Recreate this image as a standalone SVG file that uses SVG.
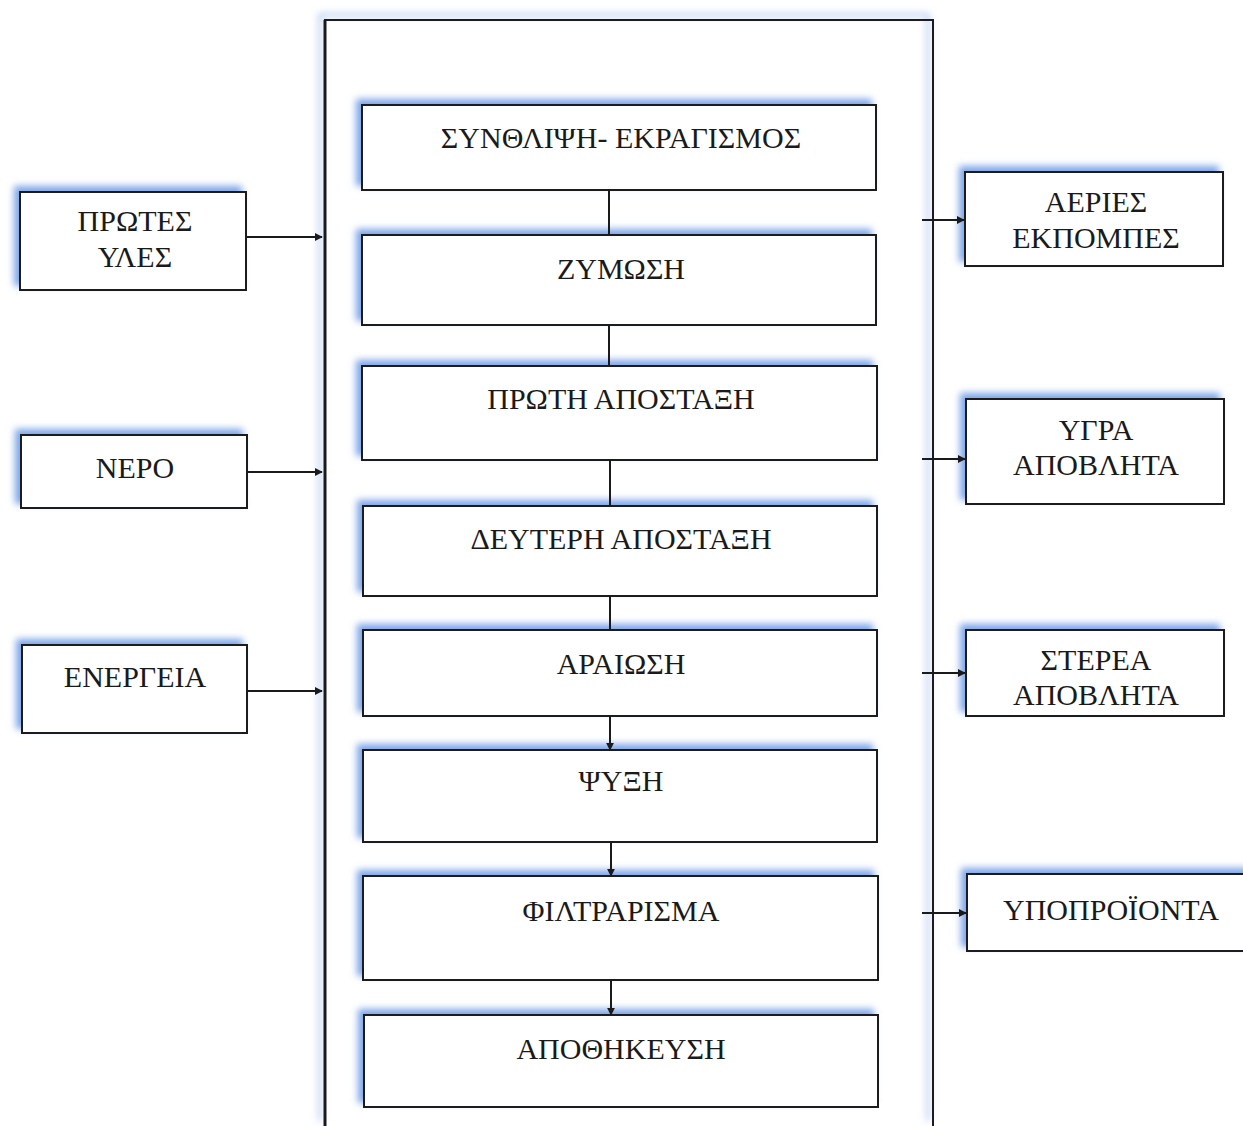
<svg xmlns="http://www.w3.org/2000/svg" width="1243" height="1126" viewBox="0 0 1243 1126">
<defs>
<filter id="glow" x="-10%" y="-30%" width="120%" height="160%">
<feDropShadow dx="-5" dy="-5" stdDeviation="3.5" flood-color="#5b8fe3" flood-opacity="0.8"/>
</filter>
<marker id="ah" viewBox="0 0 10 10" refX="9" refY="5" markerWidth="8" markerHeight="8" markerUnits="userSpaceOnUse" orient="auto">
<path d="M0,0 L10,5 L0,10 z" fill="#1a1a1a"/>
</marker>
</defs>
<style>
.box{fill:#ffffff;stroke:#1a1a1a;stroke-width:2}
.t{font-family:"Liberation Serif","Times New Roman",serif;font-size:30px;fill:#1a1a1a;text-anchor:middle;dominant-baseline:central}
.c{stroke:#1a1a1a;stroke-width:2;fill:none}
</style>
<rect width="1243" height="1126" fill="#ffffff"/>
<g id="frame">
<path d="M325,1126 L325,20 L933,20 L933,1126" fill="none" stroke="#1a1a1a" stroke-width="2" filter="url(#glow)"/>
<line x1="325" y1="20" x2="325" y2="1126" stroke="#1a1a1a" stroke-width="3"/>
</g>
<g id="n1"><rect class="box" x="362" y="105" width="514" height="85" filter="url(#glow)"/><text class="t" x="621" y="137">ΣΥΝΘΛΙΨΗ- ΕΚΡΑΓΙΣΜΟΣ</text></g>
<g id="n2"><rect class="box" x="362" y="235" width="514" height="90" filter="url(#glow)"/><text class="t" x="621" y="268">ΖΥΜΩΣΗ</text></g>
<g id="n3"><rect class="box" x="362" y="366" width="515" height="94" filter="url(#glow)"/><text class="t" x="621" y="398">ΠΡΩΤΗ ΑΠΟΣΤΑΞΗ</text></g>
<g id="n4"><rect class="box" x="363" y="506" width="514" height="90" filter="url(#glow)"/><text class="t" x="621" y="538">ΔΕΥΤΕΡΗ ΑΠΟΣΤΑΞΗ</text></g>
<g id="n5"><rect class="box" x="363" y="630" width="514" height="86" filter="url(#glow)"/><text class="t" x="621" y="663">ΑΡΑΙΩΣΗ</text></g>
<g id="n6"><rect class="box" x="363" y="750" width="514" height="92" filter="url(#glow)"/><text class="t" x="621" y="780">ΨΥΞΗ</text></g>
<g id="n7"><rect class="box" x="363" y="876" width="515" height="104" filter="url(#glow)"/><text class="t" x="621" y="910">ΦΙΛΤΡΑΡΙΣΜΑ</text></g>
<g id="n8"><rect class="box" x="364" y="1015" width="514" height="92" filter="url(#glow)"/><text class="t" x="621" y="1048">ΑΠΟΘΗΚΕΥΣΗ</text></g>
<g id="in1"><rect class="box" x="20" y="192" width="226" height="98" filter="url(#glow)"/><text class="t" x="135" y="220">ΠΡΩΤΕΣ</text><text class="t" x="135" y="256">ΥΛΕΣ</text></g>
<g id="in2"><rect class="box" x="21" y="435" width="226" height="73" filter="url(#glow)"/><text class="t" x="135" y="467">ΝΕΡΟ</text></g>
<g id="in3"><rect class="box" x="22" y="645" width="225" height="88" filter="url(#glow)"/><text class="t" x="135" y="676">ΕΝΕΡΓΕΙΑ</text></g>
<g id="out1"><rect class="box" x="965" y="172" width="258" height="94" filter="url(#glow)"/><text class="t" x="1096" y="201">ΑΕΡΙΕΣ</text><text class="t" x="1096" y="237">ΕΚΠΟΜΠΕΣ</text></g>
<g id="out2"><rect class="box" x="966" y="399" width="258" height="105" filter="url(#glow)"/><text class="t" x="1096" y="429">ΥΓΡΑ</text><text class="t" x="1096" y="464">ΑΠΟΒΛΗΤΑ</text></g>
<g id="out3"><rect class="box" x="966" y="630" width="258" height="86" filter="url(#glow)"/><text class="t" x="1096" y="659">ΣΤΕΡΕΑ</text><text class="t" x="1096" y="694">ΑΠΟΒΛΗΤΑ</text></g>
<g id="out4"><rect class="box" x="967" y="874" width="290" height="77" filter="url(#glow)"/><text class="t" x="1111" y="909">ΥΠΟΠΡΟΪΟΝΤΑ</text></g>
<g id="connectors">
<line class="c" x1="609" y1="190" x2="609" y2="235"/>
<line class="c" x1="609" y1="325" x2="609" y2="366"/>
<line class="c" x1="610" y1="460" x2="610" y2="506"/>
<line class="c" x1="610" y1="596" x2="610" y2="630"/>
<line class="c" x1="610" y1="716" x2="610" y2="750" marker-end="url(#ah)"/>
<line class="c" x1="611" y1="842" x2="611" y2="876" marker-end="url(#ah)"/>
<line class="c" x1="611" y1="980" x2="611" y2="1015" marker-end="url(#ah)"/>
<line class="c" x1="246" y1="237" x2="322" y2="237" marker-end="url(#ah)"/>
<line class="c" x1="247" y1="472" x2="322" y2="472" marker-end="url(#ah)"/>
<line class="c" x1="247" y1="691" x2="322" y2="691" marker-end="url(#ah)"/>
<line class="c" x1="922" y1="220" x2="964" y2="220" marker-end="url(#ah)"/>
<line class="c" x1="922" y1="459" x2="965" y2="459" marker-end="url(#ah)"/>
<line class="c" x1="922" y1="673" x2="965" y2="673" marker-end="url(#ah)"/>
<line class="c" x1="922" y1="913" x2="966" y2="913" marker-end="url(#ah)"/>
</g>
</svg>
